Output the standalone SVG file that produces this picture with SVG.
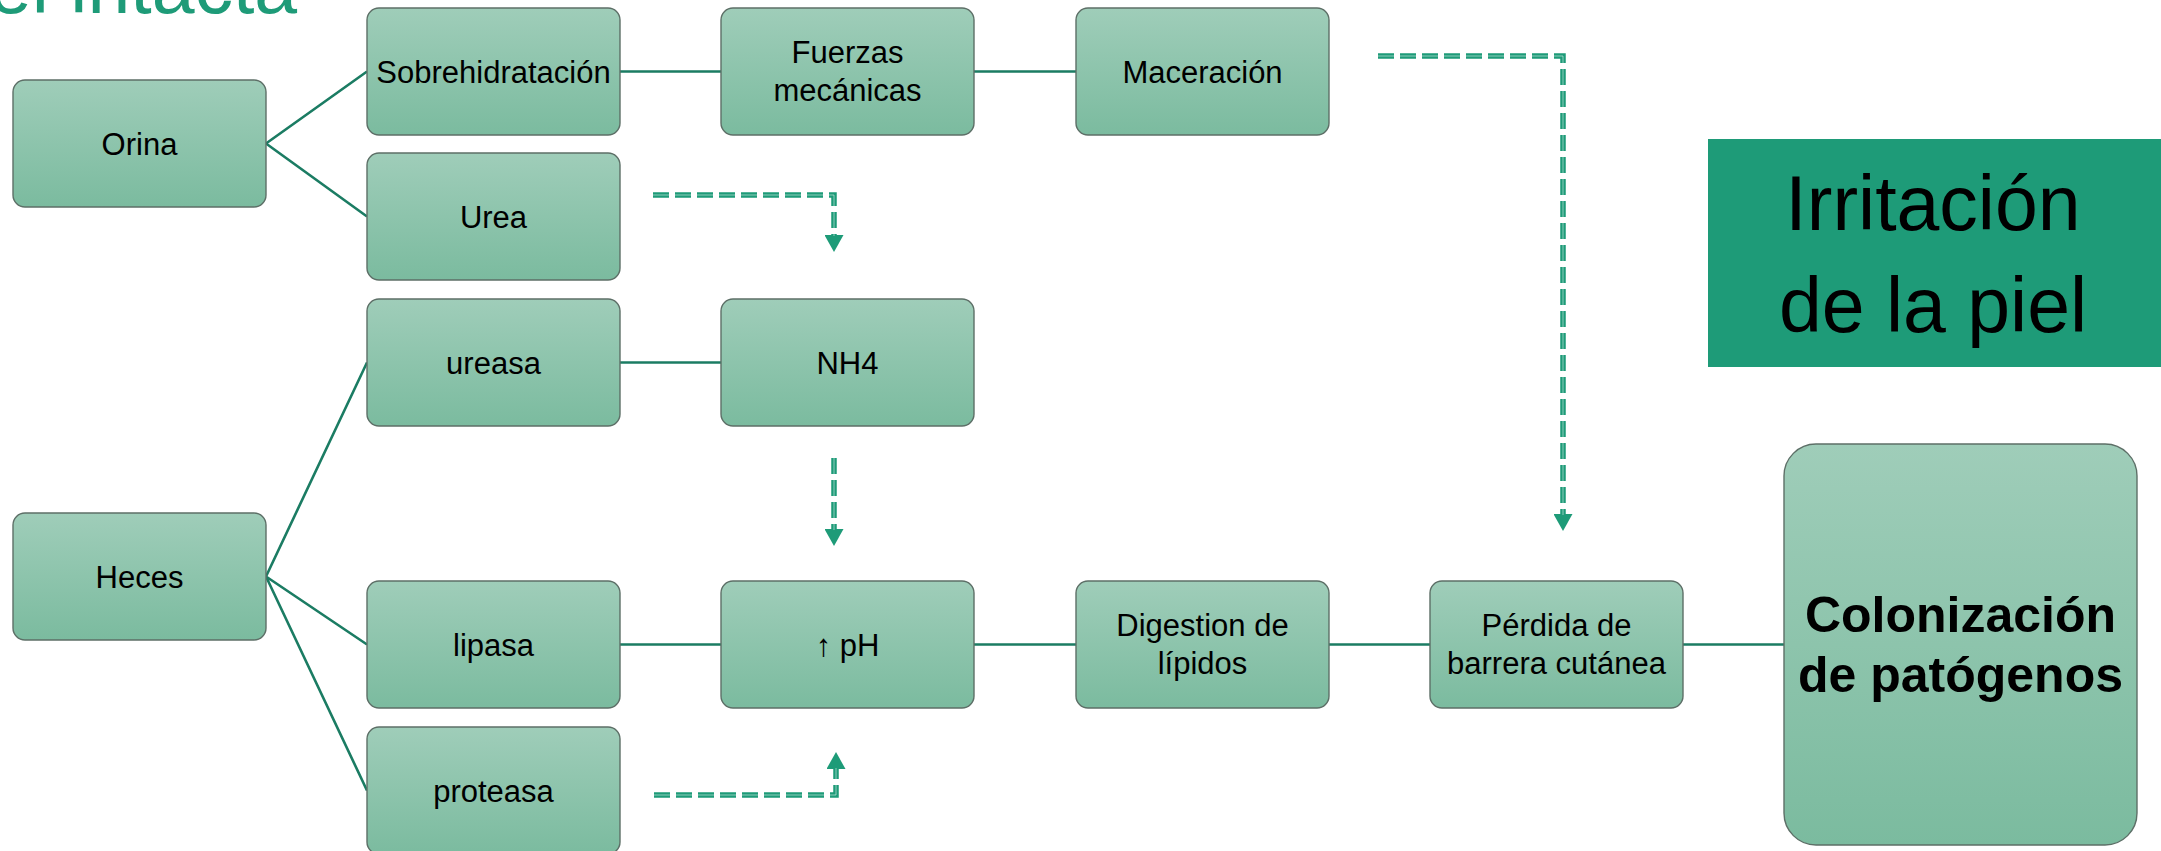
<svg xmlns="http://www.w3.org/2000/svg" width="2161" height="851" viewBox="0 0 2161 851">
<defs>
<linearGradient id="g" x1="0" y1="0" x2="0" y2="1">
<stop offset="0" stop-color="#9fcdb9"/>
<stop offset="1" stop-color="#7bbb9f"/>
</linearGradient>
<marker id="ah" viewBox="0 0 17 19" refX="1" refY="9.5" markerWidth="17" markerHeight="19" markerUnits="userSpaceOnUse" orient="auto">
<path d="M0,0 L17,9.5 L0,19 Z" fill="#1e9b78"/>
</marker>
<style>
.box{fill:url(#g);stroke:#5d6f67;stroke-width:1.4}
.t{font-family:"Liberation Sans",Arial,sans-serif;font-size:31px;fill:#000;text-anchor:middle}
.b{font-family:"Liberation Sans",Arial,sans-serif;font-size:50px;font-weight:bold;fill:#000;text-anchor:middle}
.big{font-family:"Liberation Sans",Arial,sans-serif;font-size:77px;fill:#000;text-anchor:middle}
.sol{fill:none;stroke:#1b7c63;stroke-width:2.6}
.dash{fill:none;stroke:#1e9b78;stroke-width:5.5;stroke-dasharray:16 6}
.dashc{fill:none;stroke:#ffffff;stroke-opacity:0.5;stroke-width:1;stroke-dasharray:16 6}
</style>
</defs>
<rect width="2161" height="851" fill="#ffffff"/>
<text x="-11" y="13" style="font-family:'Liberation Sans',Arial,sans-serif;font-size:77px;fill:#1e9b78">el intacta</text>

<g id="connectors">
<path class="sol" d="M266,143.5 L367,71.5 M266,143.5 L367,216.5"/>
<path class="sol" d="M266,576.5 L367,362.5 M266,576.5 L367,644.5 M266,576.5 L367,790.5"/>
<path class="sol" d="M620,71.5 L721,71.5 M974,71.5 L1076,71.5"/>
<path class="sol" d="M620,362.5 L721,362.5"/>
<path class="sol" d="M620,644.5 L721,644.5 M974,644.5 L1076,644.5 M1329,644.5 L1430,644.5 M1683,644.5 L1784,644.5"/>
<path class="dash" d="M653,195 L834,195 L834,236" marker-end="url(#ah)"/>
<path class="dashc" d="M653,195 L834,195 L834,236"/>
<path class="dash" d="M1378,56 L1563,56 L1563,515" marker-end="url(#ah)"/>
<path class="dashc" d="M1378,56 L1563,56 L1563,515"/>
<path class="dash" d="M834,458 L834,530" marker-end="url(#ah)"/>
<path class="dashc" d="M834,458 L834,530"/>
<path class="dash" d="M654,795 L836,795 L836,768" marker-end="url(#ah)"/>
<path class="dashc" d="M654,795 L836,795 L836,768"/>
</g>

<g id="orina"><rect class="box" x="13" y="80" width="253" height="127" rx="12"/><text class="t" x="139.5" y="154.5">Orina</text></g>
<g id="heces"><rect class="box" x="13" y="513" width="253" height="127" rx="12"/><text class="t" x="139.5" y="587.5">Heces</text></g>
<g id="sobrehidratacion"><rect class="box" x="367" y="8" width="253" height="127" rx="12"/><text class="t" x="493.5" y="82.5">Sobrehidratación</text></g>
<g id="urea"><rect class="box" x="367" y="153" width="253" height="127" rx="12"/><text class="t" x="493.5" y="227.5">Urea</text></g>
<g id="ureasa"><rect class="box" x="367" y="299" width="253" height="127" rx="12"/><text class="t" x="493.5" y="373.5">ureasa</text></g>
<g id="lipasa"><rect class="box" x="367" y="581" width="253" height="127" rx="12"/><text class="t" x="493.5" y="655.5">lipasa</text></g>
<g id="proteasa"><rect class="box" x="367" y="727" width="253" height="127" rx="12"/><text class="t" x="493.5" y="801.5">proteasa</text></g>
<g id="fuerzas"><rect class="box" x="721" y="8" width="253" height="127" rx="12"/><text class="t" x="847.5" y="63">Fuerzas</text><text class="t" x="847.5" y="101">mecánicas</text></g>
<g id="nh4"><rect class="box" x="721" y="299" width="253" height="127" rx="12"/><text class="t" x="847.5" y="373.5">NH4</text></g>
<g id="ph"><rect class="box" x="721" y="581" width="253" height="127" rx="12"/><text class="t" x="847.5" y="655.5">↑ pH</text></g>
<g id="maceracion"><rect class="box" x="1076" y="8" width="253" height="127" rx="12"/><text class="t" x="1202.5" y="82.5">Maceración</text></g>
<g id="digestion"><rect class="box" x="1076" y="581" width="253" height="127" rx="12"/><text class="t" x="1202.5" y="636">Digestion de</text><text class="t" x="1202.5" y="674">lípidos</text></g>
<g id="perdida"><rect class="box" x="1430" y="581" width="253" height="127" rx="12"/><text class="t" x="1556.5" y="636">Pérdida de</text><text class="t" x="1556.5" y="674">barrera cutánea</text></g>
<g id="colonizacion"><rect class="box" x="1784" y="444" width="353" height="401" rx="32"/><text class="b" x="1960.5" y="632">Colonización</text><text class="b" x="1960.5" y="692">de patógenos</text></g>
<g id="irritacion"><rect x="1708" y="139" width="453" height="228" fill="#1e9b78"/><text class="big" x="1933" y="230">Irritación</text><text class="big" x="1933" y="332">de la piel</text></g>
</svg>
